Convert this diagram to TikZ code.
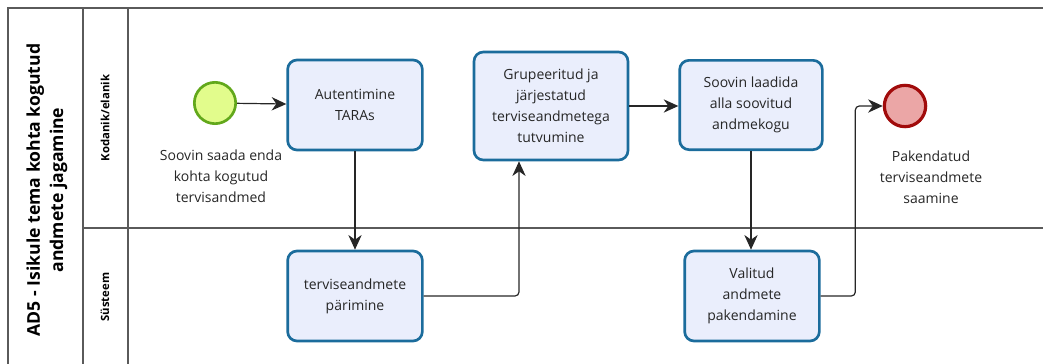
\documentclass[tikz,border=0pt]{standalone}
\usepackage{fontspec}
\setmainfont{Open Sans}
\usetikzlibrary{positioning,arrows.meta}
\definecolor{taskfill}{HTML}{EAEEFC}
\definecolor{taskline}{HTML}{1B6C9C}
\definecolor{startfill}{HTML}{E2FC8C}
\definecolor{startline}{HTML}{62A81B}
\definecolor{endfill}{HTML}{EBA6A6}
\definecolor{endline}{HTML}{A10B0B}
\definecolor{poolline}{HTML}{5A5A5A}
\tikzset{
  pool/.style={draw=poolline, line width=1.2pt},
  task/.style={draw=taskline, fill=taskfill, line width=2pt, rounded corners=7pt,
    align=center, text=black!85, font=\fontsize{10.5}{15.75}\selectfont,
    minimum width=101pt, minimum height=67.5pt},
  startevent/.style={circle, draw=startline, fill=startfill, line width=2pt, minimum size=31pt},
  endevent/.style={circle, draw=endline, fill=endfill, line width=2.4pt, minimum size=31pt},
  eventtext/.style={align=center, inner sep=0pt, text=black!85, font=\fontsize{10.5}{15.75}\selectfont},
  lanetext/.style={rotate=90, font=\fontsize{8.5}{10}\selectfont\bfseries},
  flow/.style={draw=black!85, line width=0.9pt, rounded corners=3pt,
    -{Stealth[length=11pt,width=10pt,inset=3.5pt]}}
}
\begin{document}
\begin{tikzpicture}[x=0.75pt,y=-0.75pt]
\useasboundingbox (0,0) rectangle (1043,364);
% pool and lanes
\draw[pool] (1043,8) -- (8,8) -- (8,364);
\draw[pool] (83,8) -- (83,364);
\draw[pool] (128,8) -- (128,364);
\draw[pool] (83,228) -- (1043,228);
\node[rotate=90, align=center, font=\fontsize{13.2}{17.5}\selectfont\bfseries] (title) at (47,190)
  {AD5 - Isikule tema kohta kogutud\\andmete jagamine};
\node[lanetext] (lane1) at (105,118) {Kodanik/elanik};
\node[lanetext] (lane2) at (105,297) {Süsteem};

\node[startevent] (start) at (215,103) {};
\node[eventtext] (starttext) at (221,176) {Soovin saada enda\\kohta kogutud\\tervisandmed};
\node[task] (auth) at (355,105) {Autentimine\\TARAs};
\node[task] (query) at (355,296) {terviseandmete\\pärimine};
\node[task, minimum width=115.5pt, minimum height=81pt] (view) at (551,106)
  {Grupeeritud ja\\järjestatud\\terviseandmetega\\tutvumine};
\node[task, minimum width=107pt, minimum height=67pt] (download) at (751,105)
  {Soovin laadida\\alla soovitud\\andmekogu};
\node[task] (pack) at (752,296) {Valitud\\andmete\\pakendamine};
\node[endevent] (end) at (905,106) {};
\node[eventtext] (endtext) at (931,177) {Pakendatud\\terviseandmete\\saamine};

\draw[flow] (start) -- (auth);
\draw[flow] (auth) -- (query);
\draw[flow] (query.east) -| ([xshift=-24pt]view.south);
\draw[flow] (view.east) -- (download.west |- view.east);
\draw[flow] (download.south) -- (download.south |- pack.north);
\draw[flow] (pack.east) -- ++(26pt,0) |- (end.west);
\end{tikzpicture}
\end{document}
